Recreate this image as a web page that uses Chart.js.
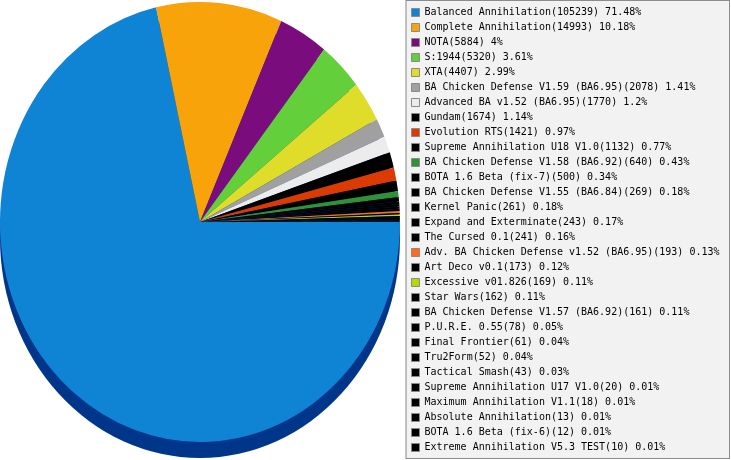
<!DOCTYPE html>
<html>
<head>
<meta charset="utf-8">
<script src="https://cdn.jsdelivr.net/npm/chart.js@4/dist/chart.umd.min.js"></script>
<style>
  html, body { margin: 0; padding: 0; background: #fff; }
  #wrap { width: 731px; height: 460px; }
</style>
</head>
<body>
<div id="wrap"><canvas id="chart"></canvas></div>
<script>
const mods = [
  "Balanced Annihilation", "Complete Annihilation", "NOTA", "S:1944", "XTA",
  "BA Chicken Defense V1.59 (BA6.95)", "Advanced BA v1.52 (BA6.95)", "Gundam",
  "Evolution RTS", "Supreme Annihilation U18 V1.0", "BA Chicken Defense V1.58 (BA6.92)",
  "BOTA 1.6 Beta (fix-7)", "BA Chicken Defense V1.55 (BA6.84)", "Kernel Panic",
  "Expand and Exterminate", "The Cursed 0.1", "Adv. BA Chicken Defense v1.52 (BA6.95)",
  "Art Deco v0.1", "Excessive v01.826", "Star Wars", "BA Chicken Defense V1.57 (BA6.92)",
  "P.U.R.E. 0.55", "Final Frontier", "Tru2Form", "Tactical Smash",
  "Supreme Annihilation U17 V1.0", "Maximum Annihilation V1.1", "Absolute Annihilation",
  "BOTA 1.6 Beta (fix-6)", "Extreme Annihilation V5.3 TEST"
];

const games = [
  105239, 14993, 5884, 5320, 4407, 2078, 1770, 1674, 1421, 1132, 640, 500, 269, 261,
  243, 241, 193, 173, 169, 162, 161, 78, 61, 52, 43, 20, 18, 13, 12, 10
];

const shares = [
  "71.48", "10.18", "4", "3.61", "2.99", "1.41", "1.2", "1.14", "0.97", "0.77", "0.43",
  "0.34", "0.18", "0.18", "0.17", "0.16", "0.13", "0.12", "0.11", "0.11", "0.11", "0.05",
  "0.04", "0.04", "0.03", "0.01", "0.01", "0.01", "0.01", "0.01"
];

const sliceColors = [
  "#1084d4", "#f8a30a", "#7b0c7e", "#63cf3a", "#e0dd2a", "#a0a0a0", "#ececec", "#000000",
  "#dc3a00", "#000000", "#2e9336", "#000000", "#000000", "#000000", "#000000", "#000000",
  "#ff6a1c", "#000000", "#b6da00", "#000000", "#000000", "#000000", "#000000", "#000000",
  "#000000", "#000000", "#000000", "#000000", "#000000", "#000000"
];

const labels = mods.map((m, i) => m + "(" + games[i] + ") " + shares[i] + "%");

// squash the round pie into the tall ellipse and give it a dark rim underneath
const tilt = {
  id: "tilt",
  beforeDatasetsDraw(chart) {
    const arc = chart.getDatasetMeta(0).data[0];
    if (!arc) return;
    const r = arc.outerRadius;
    const ctx = chart.ctx;
    ctx.save();
    ctx.translate(200, 222);
    ctx.scale(200 / r, 220 / r);
    ctx.translate(-arc.x, -arc.y);
    ctx.beginPath();
    ctx.arc(arc.x, arc.y + 16 * r / 220, r, 0, Math.PI * 2);
    ctx.fillStyle = "#00368a";
    ctx.fill();
  },
  afterDatasetsDraw(chart) {
    chart.ctx.restore();
  }
};

const legendBox = {
  id: "legendBox",
  afterInit(chart) {
    const fit = chart.legend.fit;
    chart.legend.fit = function () {
      fit.call(this);
      this.width = 324.5;
    };
  },
  beforeDraw(chart) {
    const lg = chart.legend;
    const ctx = chart.ctx;
    ctx.save();
    ctx.fillStyle = "#f2f2f2";
    ctx.strokeStyle = "#8c8c8c";
    ctx.lineWidth = 1;
    ctx.fillRect(lg.left - 1, 0, lg.width, 459);
    ctx.strokeRect(lg.left - 0.5, 0.5, lg.width - 1, 458);
    ctx.restore();
  }
};

new Chart(document.getElementById("chart"), {
  type: "pie",
  data: {
    labels: labels,
    datasets: [{
      data: games,
      backgroundColor: sliceColors,
      borderWidth: 0
    }]
  },
  options: {
    responsive: true,
    maintainAspectRatio: false,
    animation: false,
    rotation: 90,
    layout: { padding: 0 },
    plugins: {
      tooltip: { enabled: false },
      legend: {
        position: "right",
        align: "center",
        labels: {
          color: "#000",
          font: { family: "'DejaVu Sans Mono', monospace", size: 10 },
          boxWidth: 8,
          boxHeight: 8,
          padding: 5,
          generateLabels(chart) {
            return labels.map((t, i) => ({
              text: t,
              fillStyle: sliceColors[i],
              strokeStyle: "#8a8a8a",
              lineWidth: 1,
              fontColor: "#000",
              hidden: false,
              index: i
            }));
          }
        }
      }
    }
  },
  plugins: [tilt, legendBox]
});
</script>
</body>
</html>
